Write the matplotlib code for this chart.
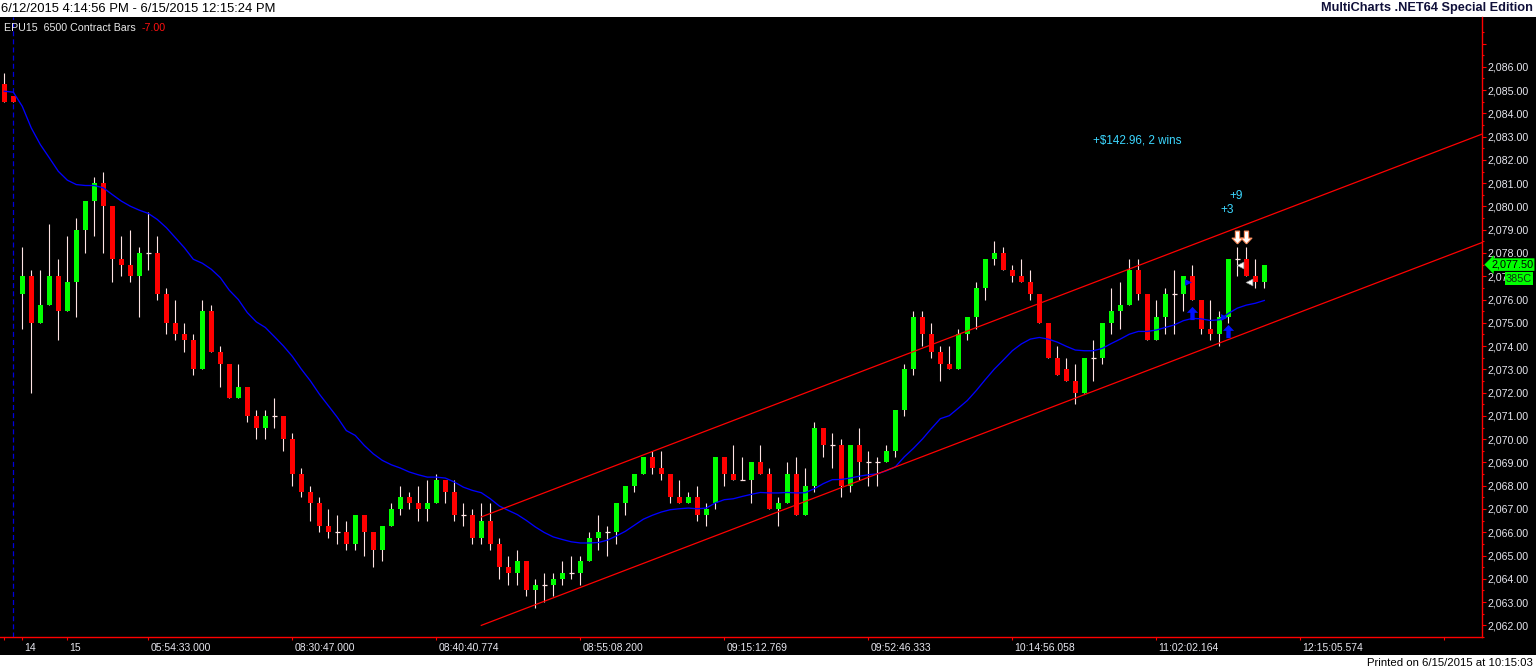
import matplotlib
matplotlib.use('Agg')
import matplotlib.pyplot as plt
import matplotlib.transforms as mtransforms
from matplotlib.path import Path
from matplotlib.patches import Rectangle
import numpy as np

plt.rcParams['font.family'] = ['Liberation Sans', 'DejaVu Sans']

# ---------------- data ----------------
opens = [2085.25, 2084.75, 2076.25, 2077.0, 2075.0, 2075.75, 2077.0, 2075.5, 2076.75, 2079.0,
         2080.25, 2081.0, 2080.0, 2077.75, 2077.5, 2077.0, 2078.0, 2078.0, 2076.25, 2075.0,
         2074.5, 2074.25, 2073.0, 2075.5, 2073.75, 2073.25, 2071.75, 2072.25, 2071.0, 2070.5,
         2071.0, 2071.0, 2070.0, 2068.5, 2067.75, 2067.25, 2066.25, 2066.0, 2066.0, 2065.5,
         2066.75, 2066.0, 2065.25, 2066.25, 2067.0, 2067.5, 2067.25, 2067.0, 2067.25, 2068.25,
         2067.75, 2066.75, 2066.75, 2065.75, 2066.5, 2065.5, 2064.5, 2064.25, 2064.75, 2063.5,
         2063.75, 2063.75, 2064.0, 2064.25, 2064.25, 2064.75, 2065.75, 2066.0, 2066.0, 2067.25,
         2068.0, 2068.5, 2069.25, 2068.75, 2068.5, 2067.5, 2067.25, 2067.5, 2066.75, 2067.25,
         2069.25, 2068.5, 2068.25, 2068.25, 2069.0, 2068.5, 2067.0, 2067.25, 2068.5, 2066.75,
         2068.0, 2070.5, 2069.75, 2069.75, 2068.0, 2069.75, 2069.0, 2069.0, 2069.0, 2069.5,
         2071.25, 2073.0, 2075.25, 2074.5, 2073.75, 2073.25, 2073.0, 2074.5, 2075.25, 2076.5,
         2077.75, 2078.0, 2077.25, 2077.0, 2076.75, 2076.25, 2075.0, 2073.5, 2073.0, 2072.5,
         2072.0, 2073.5, 2073.5, 2075.0, 2075.5, 2075.75, 2077.25, 2076.25, 2074.25, 2075.25,
         2076.25, 2076.25, 2077.0, 2076.0, 2074.75, 2074.5, 2075.25, 2077.75, 2077.75, 2077.0,
         2076.75]
highs = [2085.75, 2084.75, 2078.25, 2077.25, 2077.25, 2079.25, 2077.75, 2078.75, 2079.5, 2080.25,
         2081.25, 2081.5, 2080.0, 2078.75, 2079.0, 2078.25, 2079.75, 2078.75, 2076.5, 2076.0,
         2075.0, 2074.5, 2076.0, 2075.75, 2074.0, 2073.25, 2073.25, 2072.25, 2071.25, 2071.25,
         2071.75, 2071.0, 2070.25, 2068.75, 2068.0, 2067.5, 2067.0, 2066.75, 2066.5, 2066.75,
         2066.75, 2066.0, 2066.25, 2067.25, 2068.0, 2067.75, 2068.0, 2068.25, 2068.5, 2068.25,
         2068.25, 2067.25, 2067.0, 2067.25, 2067.25, 2065.75, 2065.0, 2065.25, 2064.75, 2064.0,
         2064.25, 2064.25, 2064.75, 2065.0, 2065.0, 2066.0, 2066.75, 2066.25, 2067.25, 2068.0,
         2068.5, 2069.25, 2069.5, 2069.5, 2068.5, 2068.25, 2067.75, 2068.0, 2067.25, 2069.25,
         2069.25, 2069.75, 2069.25, 2069.0, 2069.75, 2068.75, 2067.5, 2069.0, 2069.25, 2068.75,
         2070.75, 2070.5, 2070.25, 2070.0, 2069.75, 2070.5, 2069.5, 2069.25, 2069.75, 2071.25,
         2073.25, 2075.5, 2075.5, 2075.0, 2074.0, 2074.0, 2074.75, 2075.25, 2076.75, 2077.75,
         2078.5, 2078.25, 2077.5, 2077.75, 2077.25, 2076.25, 2075.0, 2074.0, 2073.5, 2073.25,
         2073.5, 2074.25, 2075.0, 2076.5, 2076.75, 2077.75, 2077.75, 2076.25, 2076.0, 2076.5,
         2077.25, 2077.0, 2077.5, 2076.0, 2076.0, 2075.5, 2077.75, 2078.25, 2078.25, 2077.75,
         2077.5]
lows = [2084.5, 2084.5, 2074.75, 2072.0, 2075.0, 2075.75, 2074.25, 2075.5, 2075.25, 2078.0,
        2078.75, 2078.0, 2076.75, 2077.0, 2076.75, 2075.25, 2077.25, 2076.0, 2074.5, 2074.25,
        2073.75, 2072.75, 2073.0, 2073.75, 2072.25, 2071.75, 2071.75, 2070.75, 2070.0, 2070.0,
        2070.5, 2069.5, 2068.0, 2067.5, 2066.5, 2066.0, 2065.75, 2065.5, 2065.25, 2065.25,
        2065.0, 2064.5, 2064.75, 2066.25, 2066.75, 2067.0, 2066.5, 2066.5, 2067.25, 2067.25,
        2066.5, 2066.25, 2065.5, 2065.5, 2065.25, 2064.0, 2063.75, 2063.75, 2063.25, 2062.75,
        2063.0, 2063.25, 2063.75, 2064.0, 2063.75, 2064.75, 2065.25, 2065.0, 2065.5, 2066.75,
        2067.75, 2068.5, 2068.5, 2068.25, 2067.25, 2067.25, 2067.25, 2066.5, 2066.25, 2067.0,
        2068.0, 2068.25, 2068.25, 2067.25, 2068.5, 2067.0, 2066.25, 2067.25, 2066.75, 2066.75,
        2067.75, 2069.25, 2068.75, 2067.5, 2067.75, 2068.25, 2068.0, 2068.0, 2069.0, 2069.25,
        2071.0, 2072.75, 2074.0, 2073.5, 2072.5, 2073.0, 2073.0, 2074.25, 2074.75, 2076.0,
        2077.5, 2077.25, 2076.75, 2076.75, 2076.0, 2075.0, 2073.5, 2072.75, 2072.5, 2071.5,
        2072.0, 2072.5, 2073.25, 2074.5, 2074.75, 2075.75, 2076.0, 2074.25, 2074.25, 2074.5,
        2074.5, 2075.5, 2076.0, 2074.5, 2074.25, 2074.0, 2075.0, 2077.0, 2077.0, 2076.5,
        2076.5]
closes = [2084.5, 2084.5, 2077.0, 2075.0, 2075.75, 2077.0, 2075.5, 2076.75, 2079.0, 2080.25,
          2081.0, 2080.0, 2077.75, 2077.5, 2077.0, 2078.0, 2078.0, 2076.25, 2075.0, 2074.5,
          2074.25, 2073.0, 2075.5, 2073.75, 2073.25, 2071.75, 2072.25, 2071.0, 2070.5, 2071.0,
          2071.0, 2070.0, 2068.5, 2067.75, 2067.25, 2066.25, 2066.0, 2066.0, 2065.5, 2066.75,
          2066.0, 2065.25, 2066.25, 2067.0, 2067.5, 2067.25, 2067.0, 2067.25, 2068.25, 2067.75,
          2066.75, 2066.75, 2065.75, 2066.5, 2065.5, 2064.5, 2064.25, 2064.75, 2063.5, 2063.75,
          2063.75, 2064.0, 2064.25, 2064.25, 2064.75, 2065.75, 2066.0, 2066.0, 2067.25, 2068.0,
          2068.5, 2069.25, 2068.75, 2068.5, 2067.5, 2067.25, 2067.5, 2066.75, 2067.0, 2069.25,
          2068.5, 2068.25, 2068.25, 2069.0, 2068.5, 2067.0, 2067.25, 2068.5, 2066.75, 2068.0,
          2070.5, 2069.75, 2069.75, 2068.0, 2069.75, 2069.0, 2069.0, 2069.0, 2069.5, 2071.25,
          2073.0, 2075.25, 2074.5, 2073.75, 2073.25, 2073.0, 2074.5, 2075.25, 2076.5, 2077.75,
          2078.0, 2077.25, 2077.0, 2076.75, 2076.25, 2075.0, 2073.5, 2072.75, 2072.5, 2072.0,
          2073.5, 2073.5, 2075.0, 2075.5, 2075.75, 2077.25, 2076.25, 2074.25, 2075.25, 2076.25,
          2076.25, 2077.0, 2076.0, 2074.75, 2074.5, 2075.25, 2077.75, 2077.75, 2077.0, 2076.75,
          2077.5]
ma_line = [2084.95, 2084.91, 2084.3, 2083.37, 2082.66, 2082.09, 2081.51, 2081.13, 2080.94, 2080.9,
           2080.9, 2080.8, 2080.51, 2080.23, 2080.01, 2079.84, 2079.7, 2079.44, 2079.09, 2078.66,
           2078.23, 2077.73, 2077.56, 2077.3, 2076.94, 2076.4, 2076.0, 2075.44, 2075.04, 2074.8,
           2074.41, 2074.01, 2073.56, 2073.01, 2072.51, 2071.94, 2071.44, 2070.94, 2070.37, 2070.16,
           2069.73, 2069.37, 2069.09, 2068.9, 2068.76, 2068.59, 2068.47, 2068.37, 2068.37, 2068.33,
           2068.16, 2067.94, 2067.8, 2067.7, 2067.44, 2067.13, 2066.94, 2066.76, 2066.51, 2066.23,
           2065.99, 2065.8, 2065.69, 2065.59, 2065.54, 2065.54, 2065.56, 2065.66, 2065.84, 2066.04,
           2066.3, 2066.56, 2066.73, 2066.87, 2066.97, 2067.01, 2067.04, 2067.01, 2067.04, 2067.26,
           2067.4, 2067.44, 2067.54, 2067.63, 2067.71, 2067.69, 2067.69, 2067.71, 2067.69, 2067.7,
           2067.87, 2068.09, 2068.26, 2068.27, 2068.33, 2068.41, 2068.47, 2068.51, 2068.64, 2068.81,
           2069.24, 2069.6, 2070.0, 2070.45, 2070.88, 2071.01, 2071.33, 2071.66, 2072.09, 2072.56,
           2073.01, 2073.4, 2073.8, 2074.09, 2074.3, 2074.37, 2074.3, 2074.17, 2073.99, 2073.83,
           2073.8, 2073.8, 2073.9, 2074.11, 2074.3, 2074.51, 2074.63, 2074.63, 2074.69, 2074.8,
           2074.91, 2075.09, 2075.19, 2075.17, 2075.1, 2075.13, 2075.4, 2075.63, 2075.76, 2075.84,
           2075.96]

# regression channel (bar index, price)
channel_idx = [53.0, 164.2]
channel_lower = [2062.0, 2078.45]
channel_upper = [2066.66, 2083.11]

# session break
session_break_idx = 1

# trades
entry_idx = [132, 136]
entry_price = [2076.75, 2075.25]
buy_arrow_price = [2075.42, 2074.64]
exit_idx = [137, 138]
exit_price = [2077.5, 2076.75]
sell_arrow_price = [2078.67, 2078.67]
trade_labels = ['+3', '+9']
trade_label_idx = [135.9, 136.9]
trade_label_price = [2079.84, 2080.47]
summary_text = '+$142.96, 2 wins'
summary_idx = 125.9
summary_price = 2082.83

# axes
x_tick_pos = [0, 2, 7, 16, 32, 48, 64, 80, 96, 112, 128, 144, 160]
x_tick_labels = ['', '14', '15', '05:54:33.000', '08:30:47.000', '08:40:40.774',
                 '08:55:08.200', '09:15:12.769', '09:52:46.333', '10:14:56.058',
                 '11:02:02.164', '12:15:05.574', '']
y_major = list(range(2062, 2088))
y_unlabeled = [2087]
bars_left = 385

header_left = '6/12/2015 4:14:56 PM - 6/15/2015 12:15:24 PM'
header_right = 'MultiCharts .NET64 Special Edition'
footer = 'Printed on 6/15/2015 at 10:15:03'
symbol_text = 'EPU15  6500 Contract Bars'
change_text = '-7.00'

# ---------------- figure ----------------
W, H = 1536, 670
fig = plt.figure(figsize=(W / 100, H / 100), dpi=100, facecolor='white')
fig.patches.append(Rectangle((0, 15 / H), 1, 638 / H, transform=fig.transFigure,
                             facecolor='black', edgecolor='none', zorder=-10))
ax = fig.add_axes([0, 1 - 637 / H, 1482 / W, 620 / H])
ax.set_facecolor('black')

O = np.array(opens); Hh = np.array(highs); L = np.array(lows); C = np.array(closes)
idx = np.arange(len(O))
up = C > O
dn = C < O
eq = C == O
bw = 0.56
wick_col = '#ffe4e4'

ax.vlines(idx, L, Hh, color=wick_col, lw=0.8, zorder=2)
ax.bar(idx[up], (C - O)[up], bottom=O[up], width=bw, color='#00ff00', linewidth=0, zorder=3)
ax.bar(idx[dn], (O - C)[dn], bottom=C[dn], width=bw, color='#ff0000', linewidth=0, zorder=3)
ax.hlines(C[eq], idx[eq] - bw / 2, idx[eq] + bw / 2, color=wick_col, lw=0.9, zorder=3)

# moving average
ax.plot(idx, ma_line, color='#0000ff', lw=0.95, zorder=4)

# channel
ax.plot(channel_idx, channel_lower, color='#ff0000', lw=0.9, zorder=4)
ax.plot(channel_idx, channel_upper, color='#ff0000', lw=0.9, zorder=4)

# session break
ax.axvline(session_break_idx, color='#0000dd', lw=0.9, ls=(0, (4, 2.5)), zorder=1)

# trade markers
up_arrow = Path([(0, 1), (0.85, 0.1), (0.33, 0.1), (0.33, -1), (-0.33, -1),
                 (-0.33, 0.1), (-0.85, 0.1), (0, 1)])
down_arrow = Path([(0, -1), (0.85, -0.1), (0.33, -0.1), (0.33, 1), (-0.33, 1),
                   (-0.33, -0.1), (-0.85, -0.1), (0, -1)])
ax.scatter(entry_idx, buy_arrow_price, marker=up_arrow, s=90, color='#0010ff',
           linewidths=0, zorder=6)
ax.scatter(exit_idx, sell_arrow_price, marker=down_arrow, s=85, facecolor='white',
           edgecolor='#ff9060', linewidths=0.8, zorder=6)
ax.scatter(np.array(entry_idx) - 0.45, entry_price, marker='>', s=24, color='#0010ff',
           linewidths=0, zorder=6)
ax.scatter(np.array(exit_idx) + 0.33, exit_price, marker='<', s=24, facecolor='white',
           edgecolor='#909090', linewidths=0.5, zorder=6)

cyan = '#3cd7ff'
for t, xi, yp in zip(trade_labels, trade_label_idx, trade_label_price):
    ax.text(xi, yp, t, color=cyan, fontsize=8.6, ha='center', va='center', zorder=7)
ax.text(summary_idx, summary_price, summary_text, color=cyan, fontsize=8.4,
        ha='center', va='center', zorder=7)

# limits
ax.set_xlim(-0.478, 164.19)
ax.set_ylim(2061.57, 2088.14)

# spines
for s in ['left', 'top']:
    ax.spines[s].set_visible(False)
for s in ['right', 'bottom']:
    ax.spines[s].set_color('#ff0000')
    ax.spines[s].set_linewidth(1.0)

# y axis on the right
ax.yaxis.tick_right()
ax.set_yticks(y_major)
ax.set_yticklabels(['' if v in y_unlabeled else f'{v:,.2f}' for v in y_major])
ax.set_yticks(np.arange(2061.5, 2088.0, 1.0), minor=True)
ax.tick_params(axis='y', which='major', direction='out', length=2.8, width=0.8,
               color='#ff0000', labelcolor='#e6e6ee', labelsize=7.7, pad=1.2)
ax.tick_params(axis='y', which='minor', direction='out', length=1.5, width=0.8,
               color='#ff0000')

# x axis
ax.set_xticks(x_tick_pos)
ax.set_xticklabels(x_tick_labels)
ax.tick_params(axis='x', which='major', direction='out', length=2.5, width=0.8,
               color='#ff0000', labelcolor='#e6e6ee', labelsize=7.5, pad=2.0)
offset = mtransforms.ScaledTranslation(2 / 100, 0, fig.dpi_scale_trans)
for lab in ax.get_xticklabels():
    lab.set_ha('left')
    lab.set_transform(lab.get_transform() + offset)

# last price box on the axis
blend = mtransforms.blended_transform_factory(ax.transAxes, ax.transData)
last = closes[-1]
ax.text(1491 / 1482, last, f'{last:,.2f}', transform=blend, ha='left', va='center',
        fontsize=7.8, color='black', clip_on=False, zorder=10,
        bbox=dict(boxstyle='larrow,pad=0.12', fc='#00ff00', ec='none'))
down_off = mtransforms.ScaledTranslation(0, -14 / 100, fig.dpi_scale_trans)
ax.text(1506 / 1482, last, f'{bars_left}C', transform=blend + down_off, ha='left',
        va='center', fontsize=7.8, color='#103010', clip_on=False, zorder=10,
        bbox=dict(boxstyle='square,pad=0.12', fc='#00ff00', ec='none'))

# texts
fig.text(1 / W, 1 - 8.5 / H, header_left, fontsize=9.4, color='black', ha='left', va='center')
fig.text(1533 / W, 1 - 8.5 / H, header_right, fontsize=9.2, color='#10103a',
         fontweight='bold', ha='right', va='center')
fig.text(1533 / W, 1 - 662.5 / H, footer, fontsize=8.2, color='black', ha='right', va='center')
fig.text(4 / W, 1 - 28 / H, symbol_text, fontsize=7.7, color='#e8e8e8', ha='left', va='center')
fig.text(142 / W, 1 - 28 / H, change_text, fontsize=7.7, color='#ff1010', ha='left', va='center')

fig.savefig('out.png', dpi=100, facecolor='white')
